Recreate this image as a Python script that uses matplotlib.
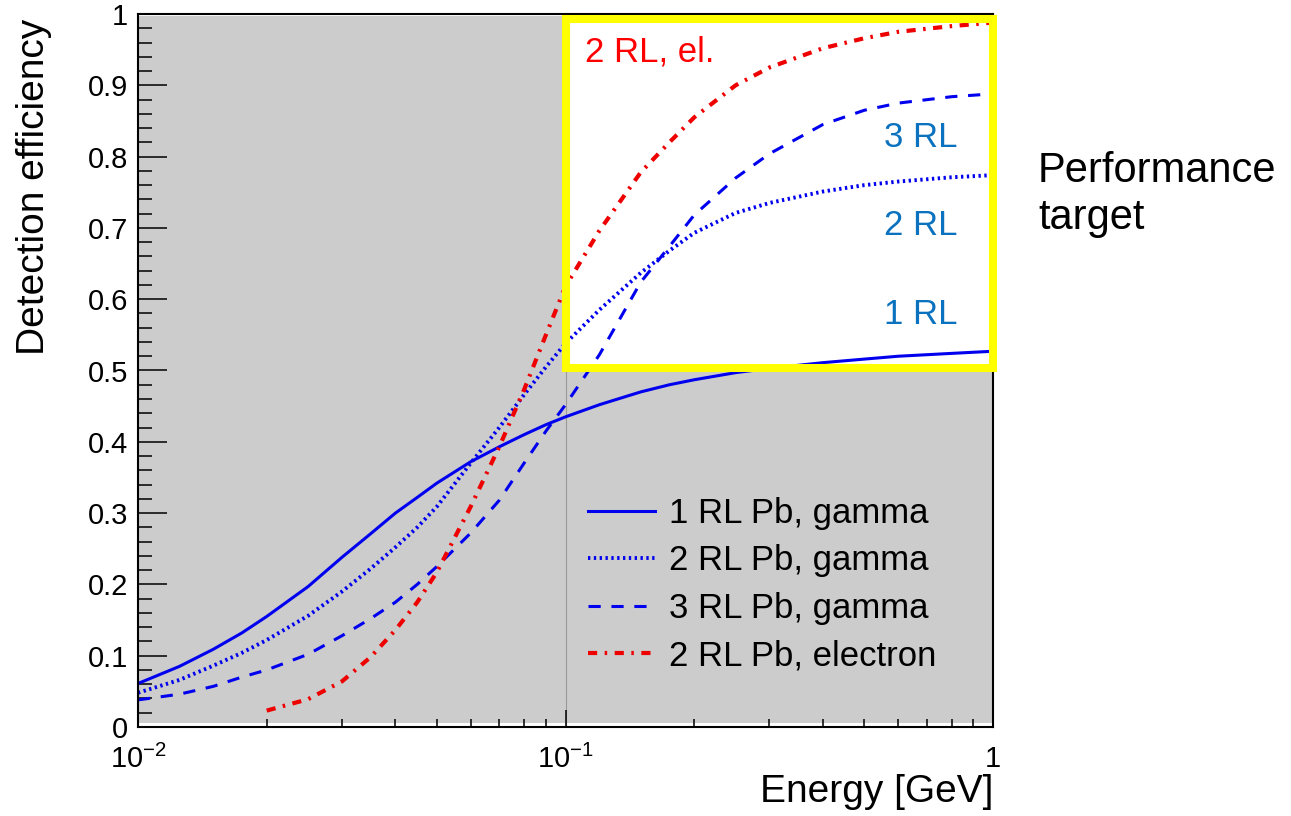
import numpy as np
import matplotlib
matplotlib.use('Agg')
import matplotlib.pyplot as plt
from matplotlib.patches import Rectangle
from matplotlib.ticker import FixedLocator, FixedFormatter, MultipleLocator

plt.rcParams['font.family'] = ['Liberation Sans', 'DejaVu Sans']
plt.rcParams['mathtext.fontset'] = 'custom'
plt.rcParams['mathtext.rm'] = 'Liberation Sans'
plt.rcParams['mathtext.it'] = 'Liberation Sans:italic'

# energies [GeV]
energy = [0.01, 0.0125, 0.015, 0.0175, 0.02, 0.025, 0.03, 0.035, 0.04, 0.045,
          0.05, 0.06, 0.07, 0.08, 0.09, 0.1, 0.12, 0.15, 0.175, 0.2, 0.25, 0.3,
          0.4, 0.5, 0.6, 0.8, 1.0]
eff_1rl = [0.061, 0.085, 0.109, 0.132, 0.155, 0.197, 0.238, 0.271, 0.30, 0.322,
           0.342, 0.372, 0.393, 0.41, 0.424, 0.435, 0.452, 0.47, 0.48, 0.487,
           0.497, 0.503, 0.511, 0.516, 0.52, 0.524, 0.527]
eff_2rl = [0.048, 0.066, 0.086, 0.104, 0.122, 0.156, 0.19, 0.222, 0.252, 0.28,
           0.309, 0.37, 0.42, 0.466, 0.505, 0.538, 0.585, 0.637, 0.668, 0.693,
           0.721, 0.735, 0.751, 0.76, 0.765, 0.771, 0.774]
eff_3rl = [0.038, 0.046, 0.057, 0.07, 0.08, 0.102, 0.128, 0.152, 0.175, 0.2,
           0.225, 0.272, 0.318, 0.37, 0.415, 0.452, 0.522, 0.624, 0.674, 0.718,
           0.77, 0.804, 0.845, 0.865, 0.875, 0.884, 0.888]
energy_el = [0.02, 0.025, 0.03, 0.035, 0.04, 0.045, 0.05, 0.06, 0.07, 0.08,
             0.09, 0.1, 0.12, 0.15, 0.175, 0.2, 0.25, 0.3, 0.4, 0.5, 0.6, 0.8, 1.0]
eff_el = [0.023, 0.039, 0.064, 0.098, 0.136, 0.175, 0.217, 0.309, 0.393, 0.473,
          0.55, 0.618, 0.696, 0.778, 0.82, 0.855, 0.9, 0.925, 0.952, 0.966,
          0.975, 0.983, 0.988]

legend_labels = ['1 RL Pb, gamma', '2 RL Pb, gamma', '3 RL Pb, gamma', '2 RL Pb, electron']
xtick_vals = [0.01, 0.1, 1.0]
xtick_labels = ['$10^{-2}$', '$10^{-1}$', '1']

blue = '#0000ee'
red = '#ee0000'
txt_blue = '#0a72be'

fig = plt.figure(figsize=(12.91, 8.16), dpi=100)
ax = fig.add_axes([138/1291, 1 - 727/816, 855/1291, 713/816])
ax.set_xscale('log')
ax.set_xlim(0.01, 1)
ax.set_ylim(0, 1)

# grey background, white "target" window with yellow border
ax.axhspan(0.006, 0.997, color='#cccccc', lw=0, zorder=0)
ax.axvline(0.1, color='#999999', lw=0.8, zorder=0.5)
ax.add_patch(Rectangle((0.1, 0.503), 0.9, 0.49, facecolor='white',
                       edgecolor='none', zorder=1))
ax.add_patch(Rectangle((0.1, 0.503), 0.9, 0.49, facecolor='none',
                       edgecolor='#ffff00', lw=5.8, zorder=5, clip_on=False))

ax.plot(energy, eff_1rl, color=blue, lw=2.2, ls='-', label=legend_labels[0], zorder=3)
ax.plot(energy, eff_2rl, color=blue, lw=2.8, ls=(0, (0.6, 0.9)), label=legend_labels[1], zorder=3)
ax.plot(energy, eff_3rl, color=blue, lw=2.2, ls=(0, (4, 3.5)), label=legend_labels[2], zorder=3)
ax.plot(energy_el, eff_el, color=red, lw=3, ls=(0, (2.2, 1.8, 0.6, 1.8)),
        label=legend_labels[3], zorder=3)

ax.legend(loc='upper left', bbox_to_anchor=(0.526, 0.323), frameon=False,
          fontsize=25, borderpad=0, borderaxespad=0, handlelength=1.95,
          handletextpad=0.38, labelspacing=0.42)

# annotations inside the window
ax.text(0.111, 0.933, '2 RL, el.', color='#ff0000', fontsize=25, ha='left', va='baseline', zorder=6)
ax.text(0.828, 0.813, '3 RL', color=txt_blue, fontsize=25, ha='right', va='baseline', zorder=6)
ax.text(0.828, 0.690, '2 RL', color=txt_blue, fontsize=25, ha='right', va='baseline', zorder=6)
ax.text(0.828, 0.565, '1 RL', color=txt_blue, fontsize=25, ha='right', va='baseline', zorder=6)

fig.text(1038/1291, 1 - 151/816, 'Performance\ntarget', fontsize=30,
         ha='left', va='top', linespacing=1.22)

# axes in ROOT style
for s in ax.spines.values():
    s.set_linewidth(1.5)
    s.set_zorder(4)
ax.xaxis.set_major_locator(FixedLocator(xtick_vals))
ax.xaxis.set_major_formatter(FixedFormatter(xtick_labels))
ax.yaxis.set_major_locator(MultipleLocator(0.1))
ax.yaxis.set_minor_locator(MultipleLocator(0.02))
ax.yaxis.set_major_formatter(plt.FuncFormatter(lambda v, p: '%g' % round(v, 2)))
ax.tick_params(axis='both', which='both', direction='in', top=False, right=False,
               labelsize=21, width=1.1)
ax.tick_params(axis='x', which='major', length=12, pad=13)
ax.tick_params(axis='x', which='minor', length=6)
ax.tick_params(axis='y', which='major', length=21, pad=7)
ax.tick_params(axis='y', which='minor', length=10)

ax.set_xlabel('Energy [GeV]', fontsize=28, loc='right')
ax.xaxis.set_label_coords(1.0, -0.066)
ax.set_ylabel('Detection efficiency', fontsize=28, loc='top')
ax.yaxis.set_label_coords(-0.100, 0.994)

fig.savefig('out.png', dpi=100)
